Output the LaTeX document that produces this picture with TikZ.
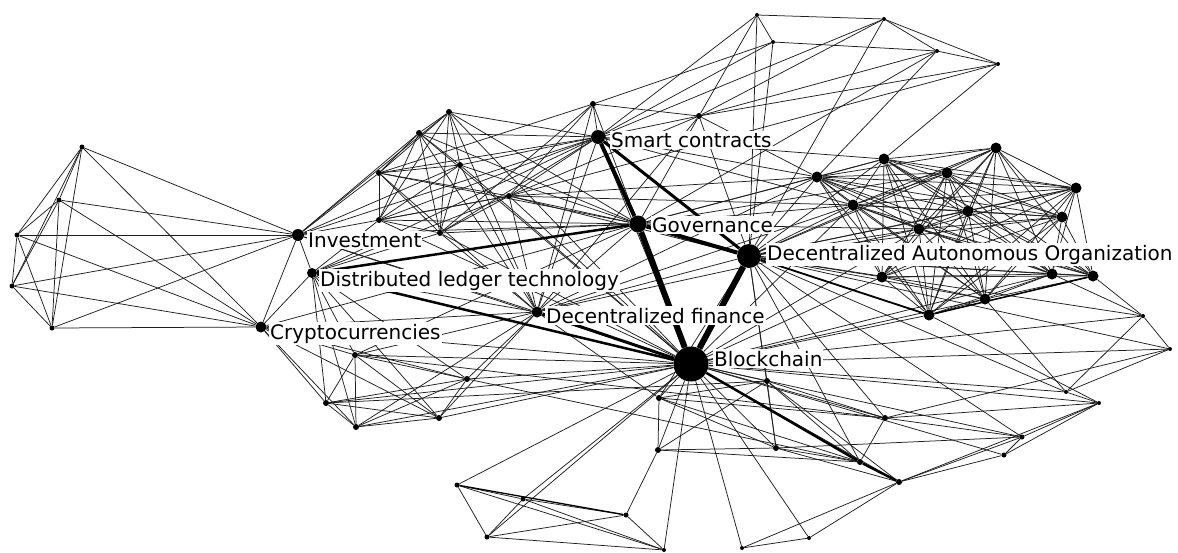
\documentclass[tikz,border=0pt]{standalone}
\usepackage{fontspec}
\setmainfont{DejaVu Sans}
\pgfdeclarelayer{bg}
\pgfdeclarelayer{edges}
\pgfsetlayers{bg,edges,main}
\tikzset{
  dotnode/.style={circle,fill=black,inner sep=0pt,minimum size=#1},
  dotnode/.default=6pt,
  edge/.style={draw=black!88,line width=0.75pt},
  wide/.style={draw=black,line width=#1},
  lab/.style={anchor=base west,fill=white,inner xsep=1pt,inner ysep=1.5pt,font=\fontsize{20}{22}\selectfont}
}
\begin{document}
\begin{tikzpicture}[x=1pt,y=-1pt]
\begin{pgfonlayer}{bg}
\fill[white] (0,0) rectangle (1178,552);
\end{pgfonlayer}
\useasboundingbox (0,0) rectangle (1178,552);
% ---------- hubs
\node[dotnode=35pt] (bc) at (691,364) {};
\node[dotnode=24pt] (dao) at (749,256) {};
\node[dotnode=17pt] (gov) at (638,224) {};
\node[dotnode=14pt] (sc) at (598,137) {};
\node[dotnode=12pt] (inv) at (298,235) {};
\node[dotnode=10pt] (dlt) at (312,273) {};
\node[dotnode=11pt] (cry) at (261,327) {};
\node[dotnode=11pt] (defi) at (537,312) {};
% ---------- left cluster
\node[dotnode=5pt] (la) at (82,147) {};
\node[dotnode=5pt] (lb) at (59,200) {};
\node[dotnode=5pt] (lc) at (17,235) {};
\node[dotnode=5pt] (ld) at (12,286) {};
\node[dotnode=5pt] (le) at (52,328) {};
% ---------- upper-left cluster
\node[dotnode=6pt] (a1) at (449,112) {};
\node[dotnode=6pt] (a2) at (419,133) {};
\node[dotnode=6pt] (a3) at (379,173) {};
\node[dotnode=6pt] (a4) at (379,220) {};
\node[dotnode=6pt] (a5) at (460,165) {};
\node[dotnode=6pt] (a6) at (440,233) {};
\node[dotnode=6pt] (a7) at (509,196) {};
\node[dotnode=6pt] (s1) at (593,104) {};
\node[dotnode=6pt] (s2) at (699,116) {};
% ---------- top
\node[dotnode=4pt] (t1) at (757,15) {};
\node[dotnode=4pt] (t2) at (773,42) {};
\node[dotnode=4pt] (t3) at (884,19) {};
\node[dotnode=4pt] (t4) at (937,51) {};
\node[dotnode=4pt] (t5) at (998,64) {};
% ---------- DAO cluster
\node[dotnode=11pt] (d1) at (996,148) {};
\node[dotnode=11pt] (d2) at (884,159) {};
\node[dotnode=11pt] (d3) at (817,177) {};
\node[dotnode=11pt] (d4) at (947,173) {};
\node[dotnode=11pt] (d5) at (1076,188) {};
\node[dotnode=11pt] (d6) at (853,205) {};
\node[dotnode=11pt] (d7) at (968,211) {};
\node[dotnode=11pt] (d8) at (1062,217) {};
\node[dotnode=11pt] (d9) at (919,229) {};
\node[dotnode=11pt] (d10) at (882,277) {};
\node[dotnode=11pt] (d11) at (1052,274) {};
\node[dotnode=11pt] (d12) at (1093,276) {};
\node[dotnode=11pt] (d13) at (985,299) {};
\node[dotnode=11pt] (d14) at (929,315) {};
% ---------- middle-left
\node[dotnode=6pt] (c1) at (355,355) {};
\node[dotnode=6pt] (c2) at (326,403) {};
\node[dotnode=6pt] (c3) at (356,427) {};
\node[dotnode=6pt] (b1) at (467,379) {};
\node[dotnode=6pt] (b2) at (439,418) {};
% ---------- bottom
\node[dotnode=6pt] (b3) at (659,398) {};
\node[dotnode=6pt] (b4) at (658,450) {};
\node[dotnode=6pt] (b5) at (767,381) {};
\node[dotnode=6pt] (b6) at (776,448) {};
\node[dotnode=5pt] (b7) at (457,485) {};
\node[dotnode=5pt] (b8) at (523,499) {};
\node[dotnode=5pt] (b9) at (626,515) {};
\node[dotnode=5pt] (b10) at (487,537) {};
\node[dotnode=4pt] (b11) at (664,550) {};
\node[dotnode=4pt] (b12) at (742,548) {};
% ---------- right
\node[dotnode=4pt] (r1) at (1143,316) {};
\node[dotnode=4pt] (r2) at (1170,349) {};
\node[dotnode=4pt] (r3) at (1066,392) {};
\node[dotnode=4pt] (r4) at (1099,403) {};
\node[dotnode=5pt] (r5) at (1022,437) {};
\node[dotnode=5pt] (r6) at (1004,455) {};
\node[dotnode=6pt] (r7) at (885,418) {};
\node[dotnode=6pt] (r8) at (860,462) {};
\node[dotnode=6pt] (r9) at (899,482) {};
\node[dotnode=4pt] (r10) at (809,538) {};

\begin{pgfonlayer}{edges}
% left cluster (complete)
\foreach \a/\b in {la/lb,la/lc,la/ld,la/le,la/inv,la/cry,lb/lc,lb/ld,lb/le,lb/inv,lb/cry,
  lc/ld,lc/le,lc/inv,lc/cry,ld/le,ld/inv,ld/cry,le/inv,le/cry,inv/cry}
  \draw[edge] (\a) -- (\b);
% investment / DLT / crypto
\foreach \a/\b in {inv/a1,inv/a2,inv/a3,inv/sc,inv/gov,inv/a5,inv/a7,inv/defi,inv/bc,inv/dlt,
  dlt/cry,dlt/c1,dlt/c2,dlt/c3,dlt/b1,dlt/b2,dlt/defi,dlt/a4,dlt/a6,dlt/sc,dlt/a7,
  cry/c1,cry/c2,cry/c3,cry/b1,cry/b2,cry/bc,cry/defi,cry/gov}
  \draw[edge] (\a) -- (\b);
% upper-left cluster
\foreach \a/\b in {a1/a2,a1/a3,a1/a4,a1/a5,a1/a6,a1/sc,a1/gov,a1/defi,a1/bc,
  a2/a3,a2/a5,a2/a6,a2/a4,a2/sc,a2/gov,a2/defi,a2/bc,
  a3/a4,a3/a5,a3/a6,a3/a7,a3/sc,a3/gov,a3/defi,
  a4/a5,a4/a6,a4/a7,a4/sc,a4/gov,a4/bc,
  a5/a6,a5/sc,a5/gov,a5/defi,a5/bc,
  a6/a7,a6/sc,a6/gov,a6/defi,a6/bc,
  a7/sc,a7/gov,a7/s1,a7/dao,a7/defi,a7/bc,a7/s2,a7/d3,a7/d6,
  s1/sc,s1/s2,s1/a3,s1/a6,s1/gov,s1/defi,
  s2/sc,s2/gov,s2/dao,s2/d3,s2/defi}
  \draw[edge] (\a) -- (\b);
% top
\foreach \a/\b in {t1/t2,t1/t3,t2/t4,t3/t4,t3/t5,t4/t5,t1/sc,t2/sc,t1/dao,t2/dao,t3/dao,
  t4/d3,t5/d2,t3/s2,t4/s2,t5/s2,t3/sc,t4/gov,t5/a7,t2/s1,t1/s2}
  \draw[edge] (\a) -- (\b);
% DAO cluster (complete) and hub
\foreach \i in {1,...,13}{
  \pgfmathtruncatemacro\ii{\i+1}
  \foreach \j in {\ii,...,14}{\draw[edge] (d\i) -- (d\j);}
}
\foreach \i in {1,...,14}{\draw[edge] (dao) -- (d\i);}
\foreach \a/\b in {sc/d3,sc/d6,sc/d2,gov/d3,gov/d6,gov/d2,gov/d9,gov/d4,gov/defi,gov/c1,
  sc/defi,sc/bc,defi/dao,defi/d6,defi/d3,defi/d9,bc/d6,bc/d10,bc/d14,bc/d13,bc/d9,bc/d11,
  dao/b5,dao/b6,dao/r1,dao/r3,dao/r7,dao/r8,dao/b3,dao/r5,dao/r2,d12/r1,d11/r1,d14/r4,d13/r3}
  \draw[edge] (\a) -- (\b);
% middle-left
\foreach \a/\b in {defi/b1,defi/b2,defi/c1,defi/c3,defi/b3,
  c1/c2,c1/c3,c1/b1,c1/b2,c1/bc,c2/c3,c2/b1,c2/b2,c2/bc,c3/b1,c3/b2,c3/bc,
  b1/b2,b1/bc,b2/bc,c1/r7,c2/b5,b1/r8}
  \draw[edge] (\a) -- (\b);
% blockchain and below
\foreach \a/\b in {bc/b3,bc/b4,bc/b5,bc/b6,bc/b7,bc/b8,bc/b10,bc/b11,bc/b12,bc/r10,
  bc/r1,bc/r2,bc/r3,bc/r4,bc/r5,bc/r6,bc/r7,bc/r9,
  b3/b4,b3/b5,b3/b6,b3/r7,b4/b6,b4/b9,b4/b5,b4/r8,b5/b6,b5/r7,b5/r8,b5/r9,b6/r8,b6/r9,b6/r5,b3/r8,
  b7/b8,b7/b10,b7/b11,b8/b10,b8/b9,b8/b11,b10/b9,b10/b11,b9/b11,
  b12/r10,b12/r9,r10/r9,
  r1/r2,r1/r3,r2/r3,r3/r4,r4/r5,r4/r6,r5/r6,r5/r9,r6/r9,r4/r9,r7/r8,r7/r4,r7/r5,r2/r7}
  \draw[edge] (\a) -- (\b);
% heavy links
\draw[wide=1.3pt] (b7) -- (b9);
\draw[wide=6pt] (gov) -- (bc);
\draw[wide=6pt] (dao) -- (bc);
\draw[wide=4pt] (sc) -- (gov);
\draw[wide=4pt] (gov) -- (dao);
\draw[wide=3pt] (sc) -- (dao);
\draw[wide=2.5pt] (gov) -- (dlt);
\draw[wide=2.5pt] (dlt) -- (bc);
\draw[wide=3pt] (defi) -- (bc);
\draw[wide=2.5pt] (bc) -- (r8);
\draw[wide=2.5pt] (r8) -- (r9);
\draw[wide=1.8pt] (dao) -- (d14);
\draw[wide=1.5pt] (d14) -- (d12);
\end{pgfonlayer}

% ---------- labels
\node[lab] (lsc) at (610,147) {Smart contracts};
\node[lab] (lgov) at (651,232) {Governance};
\node[lab] (ldao) at (766,260) {Decentralized Autonomous Organization};
\node[lab] (linv) at (307,247) {Investment};
\node[lab] (ldlt) at (319,286) {Distributed ledger technology};
\node[lab] (ldefi) at (545,323) {Decentralized finance};
\node[lab] (lcry) at (269,339) {Cryptocurrencies};
\node[lab] (lbc) at (713,366) {Blockchain};
\end{tikzpicture}
\end{document}
